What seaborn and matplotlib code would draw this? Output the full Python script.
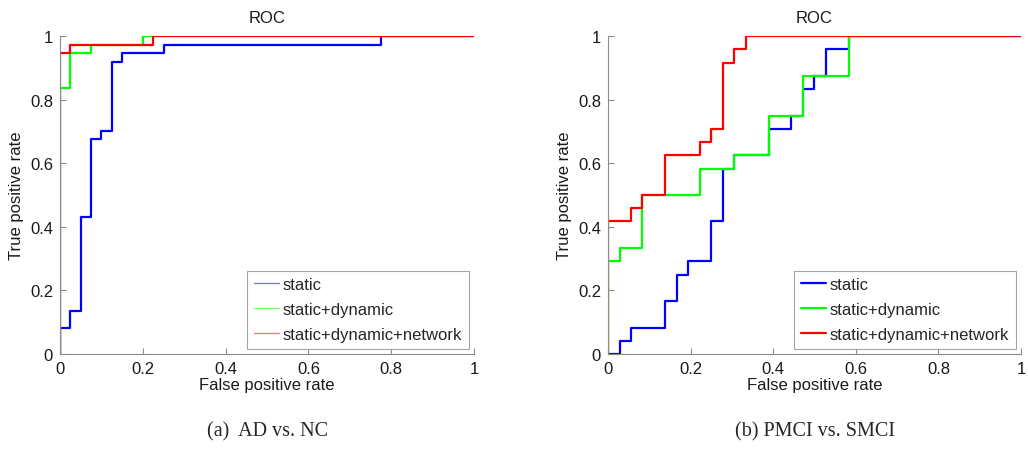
import numpy as np
import pandas as pd
import matplotlib
matplotlib.use("Agg")
import matplotlib.pyplot as plt
import seaborn as sns
from matplotlib.lines import Line2D

# ROC corner points (false positive rate, true positive rate)
# (a) AD vs. NC
ad_static_fpr = [0, 0, 0.025, 0.05, 0.075, 0.1, 0.125, 0.15, 0.25, 0.775, 1]
ad_static_tpr = [0, 0.081, 0.135, 0.432, 0.676, 0.703, 0.919, 0.946, 0.973, 1, 1]
ad_dyn_fpr = [0, 0, 0.025, 0.075, 0.2, 1]
ad_dyn_tpr = [0, 0.838, 0.946, 0.973, 1, 1]
ad_net_fpr = [0, 0, 0.025, 0.225, 1]
ad_net_tpr = [0, 0.946, 0.973, 1, 1]

# (b) PMCI vs. SMCI
mci_static_fpr = [0, 0.028, 0.056, 0.139, 0.167, 0.194, 0.25, 0.278, 0.306,
                  0.389, 0.444, 0.472, 0.5, 0.528, 0.583, 1]
mci_static_tpr = [0, 0.042, 0.083, 0.167, 0.25, 0.292, 0.417, 0.583, 0.625,
                  0.708, 0.75, 0.833, 0.875, 0.958, 1, 1]
mci_dyn_fpr = [0, 0, 0.028, 0.083, 0.222, 0.306, 0.389, 0.472, 0.583, 1]
mci_dyn_tpr = [0, 0.292, 0.333, 0.5, 0.583, 0.625, 0.75, 0.875, 1, 1]
mci_net_fpr = [0, 0, 0.056, 0.083, 0.139, 0.222, 0.25, 0.278, 0.306, 0.333, 1]
mci_net_tpr = [0, 0.417, 0.458, 0.5, 0.625, 0.667, 0.708, 0.917, 0.958, 1, 1]

labels = ["static", "static+dynamic", "static+dynamic+network"]
colors = ["#0000ff", "#00ff00", "#ff0000"]
ticks = [0, 0.2, 0.4, 0.6, 0.8, 1]
tick_labels = ["0", "0.2", "0.4", "0.6", "0.8", "1"]
captions = ["(a)  AD vs. NC", "(b) PMCI vs. SMCI"]

sns.set_style("white")
plt.rcParams["font.family"] = ["Liberation Sans", "DejaVu Sans"]

fig = plt.figure(figsize=(10.28, 4.64), dpi=100)
ax1 = fig.add_axes([0.0584, 0.235, 0.4027, 0.685])
ax2 = fig.add_axes([0.5914, 0.235, 0.4018, 0.685])

# left panel legend uses thin, faint handles; right panel uses full lines
panels = [
    (ax1, [(ad_static_fpr, ad_static_tpr), (ad_dyn_fpr, ad_dyn_tpr), (ad_net_fpr, ad_net_tpr)], 0.9, 0.55),
    (ax2, [(mci_static_fpr, mci_static_tpr), (mci_dyn_fpr, mci_dyn_tpr), (mci_net_fpr, mci_net_tpr)], 1.6, 1.0),
]

grey = "#8c8c8c"
for ax, series, leg_lw, leg_alpha in panels:
    for (fpr, tpr), col in zip(series, colors):
        sns.lineplot(x=fpr, y=tpr, sort=False, estimator=None, color=col,
                     linewidth=1.6, drawstyle="steps-post", ax=ax)
    ax.set_xlim(0, 1)
    ax.set_ylim(0, 1)
    ax.set_xticks(ticks)
    ax.set_xticklabels(tick_labels)
    ax.set_yticks(ticks)
    ax.set_yticklabels(tick_labels)
    ax.tick_params(direction="in", length=4, width=0.8, color=grey,
                   labelsize=12, labelcolor="#1a1a1a", pad=5)
    ax.tick_params(axis="x", bottom=True)
    ax.tick_params(axis="y", left=True)
    for side in ["top", "right"]:
        ax.spines[side].set_visible(False)
    for side in ["left", "bottom"]:
        ax.spines[side].set_color(grey)
        ax.spines[side].set_linewidth(0.8)
    ax.set_title("ROC", fontsize=12, color="#1a1a1a", pad=10)
    ax.set_xlabel("False positive rate", fontsize=12, color="#1a1a1a", labelpad=1)
    ax.set_ylabel("True positive rate", fontsize=12, color="#1a1a1a", labelpad=4)
    handles = [Line2D([0], [0], color=c, lw=leg_lw, alpha=leg_alpha) for c in colors]
    leg = ax.legend(handles, labels, loc="lower right", fontsize=12,
                    frameon=True, fancybox=False, edgecolor=grey,
                    borderaxespad=0.3, handlelength=1.5, handletextpad=0.25,
                    labelspacing=0.6, borderpad=0.4)
    leg.get_frame().set_linewidth(0.8)

fig.text(0.26, 0.07, captions[0], ha="center", va="center", fontsize=14.5,
         family=["Liberation Serif", "DejaVu Serif"])
fig.text(0.793, 0.07, captions[1], ha="center", va="center", fontsize=14.5,
         family=["Liberation Serif", "DejaVu Serif"])

fig.savefig("out.png", dpi=100, facecolor="white")
